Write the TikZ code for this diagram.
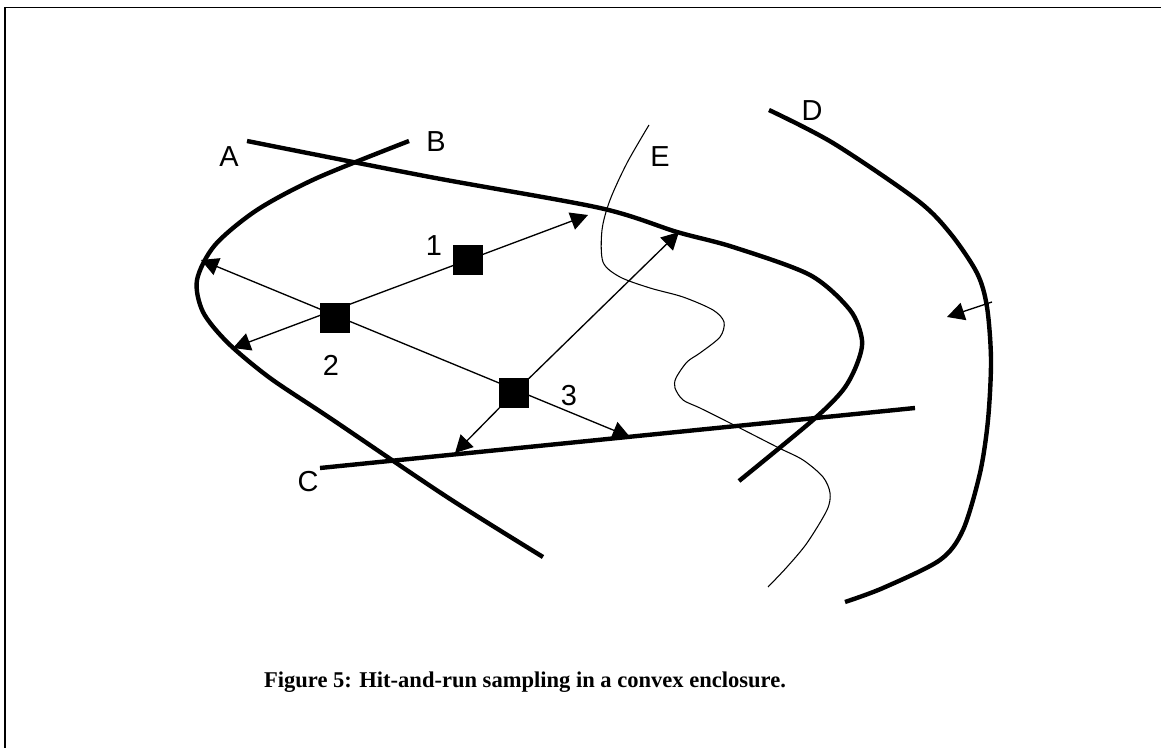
\documentclass[tikz,border=0pt]{standalone}
\usepackage{fontspec}
\setmainfont{Liberation Serif}
\newfontfamily\labelfont{Liberation Sans}
\usetikzlibrary{arrows.meta}

\tikzstyle{boundary}=[line width=3.3pt, line cap=butt]
\tikzstyle{ridge}=[line width=0.8pt]
\tikzstyle{hitline}=[line width=1pt,
                     >={Triangle[length=13pt,width=13.5pt]}
                    ]
\tikzstyle{sample}=[rectangle,
                    draw=black,
                    fill=black,
                    inner sep=0pt,
                    minimum size=22pt
                   ]
\tikzstyle{curvelabel}=[inner sep=0pt,
                        font=\labelfont\fontsize{21.7}{26}\selectfont
                       ]

\begin{document}
\begin{tikzpicture}[x=0.75pt, y=-0.75pt]
\useasboundingbox (0,0) rectangle (1161,748);
\draw[line width=1pt] (5,748) -- (5,7.5) -- (1161,7.5);

% enclosure curves
\draw[boundary] plot[smooth, tension=0.5] coordinates {(247,141) (430,177) (600,208) (677,232) (733,247) (810,275) (850,310) (862,340) (857,364) (843,390) (813,420) (739,481)};
\draw[boundary] plot[smooth, tension=0.5] coordinates {(409,141) (317,178) (257,210) (215,245) (197,280) (203,312) (228,343) (270,378) (330,418) (447,497) (543,557)};
\draw[boundary] (320,468) -- (915,408);
\draw[boundary] plot[smooth, tension=0.5] coordinates {(769,110) (833,143) (917,200) (950,233) (977,273) (987,307) (991,360) (988,420) (980,473) (963,530) (940,560) (883,588) (845,602)};
\draw[ridge] plot[smooth, tension=0.5] coordinates {(649,125) (627,163) (610,200) (602,230) (603,262) (620,277) (650,288) (683,297) (713,310) (724,322) (720,337) (700,353) (687,362) (676,378) (675,388) (683,400) (700,408) (730,423) (777,447) (803,460) (823,477) (830,493) (827,510) (807,543) (787,567) (768,587)};

% labels
\node at (229,157) (lblA) [curvelabel] {A};
\node at (436,142) (lblB) [curvelabel] {B};
\node at (308,482) (lblC) [curvelabel] {C};
\node at (812,111) (lblD) [curvelabel] {D};
\node at (660,157) (lblE) [curvelabel] {E};

% sample points
\node at (468,260) (sq1) [sample] {};
\node at (335,318) (sq2) [sample] {};
\node at (514,393) (sq3) [sample] {};
\node at (434,246) (num1) [curvelabel] {1};
\node at (331,365) (num2) [curvelabel] {2};
\node at (569,396) (num3) [curvelabel] {3};

% hit points on the boundary
\coordinate (hit1a) at (588,215);
\coordinate (hit1b) at (233,348);
\coordinate (hit2a) at (201,260);
\coordinate (hit2b) at (630,437);
\coordinate (hit3a) at (679,232);
\coordinate (hit3b) at (455,453);
\coordinate (cutD)  at (992,302);
\coordinate (hitD)  at (947,317);

\draw[hitline,<->] (hit1b) -- (hit1a);
\draw[hitline,<->] (hit2a) -- (hit2b);
\draw[hitline,->] (sq3) -- (hit3a);
\draw[hitline,->] (sq3) -- (hit3b);
\draw[hitline,->] (cutD) -- (hitD);

\node at (525,687) (caption) [anchor=base, inner sep=0pt, font=\bfseries\fontsize{16.9}{20}\selectfont] {Figure 5: Hit-and-run sampling in a convex enclosure.};
\end{tikzpicture}
\end{document}
